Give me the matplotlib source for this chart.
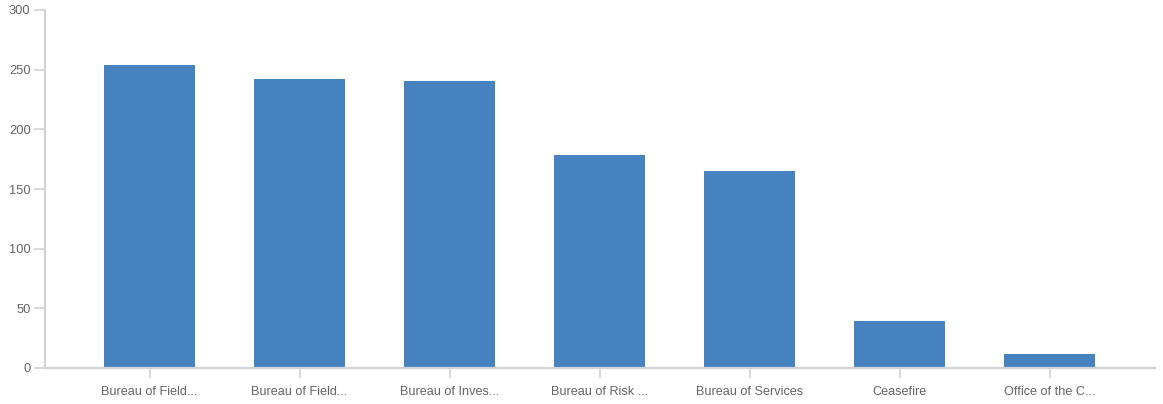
import matplotlib
matplotlib.use("Agg")
import matplotlib.pyplot as plt

categories = [
    "Bureau of Field...",
    "Bureau of Field...",
    "Bureau of Inves...",
    "Bureau of Risk ...",
    "Bureau of Services",
    "Ceasefire",
    "Office of the C...",
]
values = [254, 242, 240.5, 178.5, 165, 39.5, 12]
y_ticks = [0, 50, 100, 150, 200, 250, 300]

bar_color = "#4681c0"
axis_color = "#cfd2d6"
text_color = "#666666"

plt.rcParams["font.family"] = ["Liberation Sans", "DejaVu Sans"]

fig = plt.figure(figsize=(11.63, 4.04), dpi=100)
ax = fig.add_axes([44.5 / 1163, 36 / 404, (1155 - 44.5) / 1163, (368 - 10) / 404])

x = list(range(len(categories)))
ax.bar(x, values, width=0.607, color=bar_color, zorder=2)

ax.set_xlim(-0.7, len(categories) - 0.3)
ax.set_ylim(0, 300)
ax.set_yticks(y_ticks)
ax.set_xticks(x)
ax.set_xticklabels(categories)

for side in ("top", "right"):
    ax.spines[side].set_visible(False)
for side in ("left", "bottom"):
    ax.spines[side].set_color(axis_color)
    ax.spines[side].set_linewidth(1.6)

ax.tick_params(axis="y", length=8, width=1.2, color=axis_color,
               labelcolor=text_color, labelsize=9.3, pad=2)
ax.tick_params(axis="x", length=7, width=1.2, color=axis_color,
               labelcolor=text_color, labelsize=9.1, pad=6)

fig.savefig("out.png", dpi=100)
